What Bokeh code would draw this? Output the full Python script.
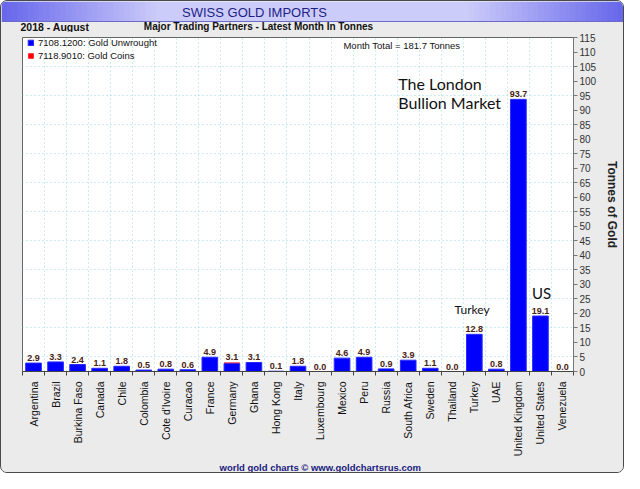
import math
from bokeh.plotting import figure
from bokeh.layouts import column
from bokeh.models import (Range1d, FixedTicker, Label, ColumnDataSource, Legend,
                          LegendItem, Title)
from bokeh.core.properties import value
from bokeh.embed import file_html
from bokeh.resources import INLINE

# ---------------- data ----------------
countries = ["Argentina", "Brazil", "Burkina Faso", "Canada", "Chile", "Colombia",
             "Cote d'Ivoire", "Curacao", "France", "Germany", "Ghana", "Hong Kong",
             "Italy", "Luxembourg", "Mexico", "Peru", "Russia", "South Africa",
             "Sweden", "Thailand", "Turkey", "UAE", "United Kingdom",
             "United States", "Venezuela"]
totals = [2.9, 3.3, 2.4, 1.1, 1.8, 0.5, 0.8, 0.6, 4.9, 3.1, 3.1, 0.1, 1.8, 0.0,
          4.6, 4.9, 0.9, 3.9, 1.1, 0.0, 12.8, 0.8, 93.7, 19.1, 0.0]
coins = [0.0, 0.0, 0.0, 0.0, 0.0, 0.0, 0.0, 0.0, 0.0, 0.3, 0.0, 0.0, 0.0, 0.0,
         0.0, 0.0, 0.0, 0.0, 0.0, 0.0, 0.0, 0.0, 0.0, 0.0, 0.0]
y_ticks = list(range(0, 116, 5))
grid_y = list(range(5, 115, 10))
series_names = ["7108.1200: Gold Unwrought", "7118.9010: Gold Coins"]
title_text = "SWISS GOLD IMPORTS"
period_text = "2018 - August"
subtitle_text = "Major Trading Partners - Latest Month In Tonnes"
total_text = "Month Total = 181.7 Tonnes"
footer_text = "world gold charts \u00a9 www.goldchartsrus.com"

W = 622
HDR_H = 31
MAIN_H = 440
BG = "#ebebeb"

# ---------------- header ----------------
hdr = figure(width=W, height=HDR_H, x_range=Range1d(0, W), y_range=Range1d(HDR_H, 0),
             x_axis_type=None, y_axis_type=None, output_backend="svg",
             toolbar_location=None, min_border=0)
hdr.frame_align = False
hdr.background_fill_color = BG
hdr.border_fill_color = BG
hdr.outline_line_color = None
hdr.grid.visible = False

# title bar with a horizontal gradient (light centre, blue ends)
edge = (104, 104, 236)
mid = (204, 204, 250)
steps = 30
ramp = 160
lefts, rights, cols = [], [], []
w = ramp / steps
for k in range(steps):
    f = k / (steps - 1)
    c = tuple(int(edge[j] + (mid[j] - edge[j]) * f) for j in range(3))
    hexc = "#%02x%02x%02x" % c
    lefts += [k * w, W - (k + 1) * w - 0.7]
    rights += [(k + 1) * w + 0.7, W - k * w]
    cols += [hexc, hexc]
lefts.append(ramp)
rights.append(W - ramp)
cols.append("#%02x%02x%02x" % mid)
hdr.quad(left=lefts, right=rights, top=0, bottom=19.5, fill_color=cols, line_color=None)
hdr.segment(x0=[0], y0=[20], x1=[W], y1=[20], line_color="#6c6cc8", line_width=1)
hdr.text(x=[253], y=[10.5], text=[title_text], text_align="center",
         text_baseline="middle", text_font=value("Liberation Sans"),
         text_font_size="13px", text_color="#1e1e86")
hdr.text(x=[19], y=[25], text=[period_text], text_align="left",
         text_baseline="middle", text_font=value("Liberation Sans"),
         text_font_size="10.5px", text_font_style="bold", text_color="#111111")
hdr.text(x=[257], y=[25], text=[subtitle_text], text_align="center",
         text_baseline="middle", text_font=value("Liberation Sans"),
         text_font_size="10px", text_font_style="bold", text_color="#111111")

# ---------------- main chart ----------------
xs = list(range(len(countries)))
unwrought = [round(t - c, 2) for t, c in zip(totals, coins)]
src = ColumnDataSource(dict(x=xs, unw=unwrought, tot=totals,
                            lab=["%.1f" % t for t in totals]))

p = figure(width=W, height=MAIN_H, x_range=Range1d(-0.5, len(countries) - 0.5),
           y_range=Range1d(0, 115), output_backend="svg", toolbar_location=None,
           y_axis_location="right", min_border_left=21, min_border_right=50,
           min_border_top=5, min_border_bottom=0)
p.frame_align = False
p.background_fill_color = "white"
p.border_fill_color = BG
p.outline_line_color = "#666666"

p.xgrid.ticker = FixedTicker(ticks=[i + 0.5 for i in range(len(countries) - 1)])
p.ygrid.ticker = FixedTicker(ticks=grid_y)
for g in (p.xgrid, p.ygrid):
    g.grid_line_color = "#9ad8ea"
    g.grid_line_dash = "1 3"
    g.grid_line_width = 1

xa = p.xaxis[0]
xa.ticker = FixedTicker(ticks=xs, minor_ticks=[i + 0.5 for i in range(-1, len(countries))])
xa.major_label_overrides = {i: c for i, c in enumerate(countries)}
xa.major_label_orientation = math.pi / 2
xa.major_tick_line_color = None
xa.minor_tick_line_color = "#444444"
xa.minor_tick_out = 4
xa.minor_tick_in = 0
xa.major_label_standoff = 4
xa.axis_line_color = "#444444"
xa.major_label_text_font = "Liberation Sans"
xa.major_label_text_font_size = "10.5px"
xa.major_label_text_color = "#111111"

ya = p.yaxis[0]
ya.ticker = FixedTicker(ticks=y_ticks)
ya.minor_tick_line_color = None
ya.major_tick_out = 4
ya.major_tick_in = 0
ya.major_tick_line_color = "#777777"
ya.axis_line_color = "#777777"
ya.major_label_standoff = 2
ya.major_label_text_font = "Liberation Sans"
ya.major_label_text_font_size = "10px"
ya.major_label_text_color = "#333333"
ya.axis_label = "Tonnes of Gold"
ya.axis_label_text_font = "Liberation Sans"
ya.axis_label_text_font_style = "bold"
ya.axis_label_text_font_size = "12px"
ya.axis_label_text_color = "#222222"
ya.axis_label_standoff = 6

r1 = p.vbar(x="x", bottom=0, top="unw", width=0.71, source=src,
            fill_color="#0000ff", line_color="#2a2aff")
r2 = p.vbar(x="x", bottom="unw", top="tot", width=0.71, source=src,
            fill_color="#ff0000", line_color=None)
p.text(x="x", y="tot", text="lab", source=src, text_align="center",
       text_baseline="bottom", y_offset=-2, text_font=value("Liberation Sans"),
       text_font_size="9px", text_font_style="bold", text_color="#4a2210")

legend = Legend(items=[LegendItem(label=series_names[0], renderers=[r1]),
                       LegendItem(label=series_names[1], renderers=[r2])],
                location=(5, 309), margin=0, padding=3, spacing=0,
                label_height=13, glyph_height=7, glyph_width=7, label_standoff=4,
                label_text_font="Liberation Sans", label_text_font_size="9.5px",
                label_text_color="#111111", background_fill_alpha=0,
                border_line_color=None)
p.add_layout(legend)

def dlabel(x, y, text, size, align="left", font="Lato"):
    p.add_layout(Label(x=x, y=y, text=text, text_font=font, text_font_size=size,
                       text_color="#111111", text_align=align, text_baseline="middle"))

dlabel(19.37, 112.1, total_text, "9.5px", align="right", font="Liberation Sans")
dlabel(16.55, 99.0, "The London", "16px")
dlabel(16.55, 92.5, "Bullion Market", "16px")
dlabel(19.9, 21.5, "Turkey", "12px", align="center")
dlabel(23.05, 27.0, "US", "15px", align="center")

p.add_layout(Title(text=footer_text, align="left", offset=197, standoff=0,
                   text_font="Liberation Sans", text_font_size="9.5px",
                   text_font_style="bold", text_color="#1a1a80"), "below")

layout = column(hdr, p, styles={"border": "1px solid #4a4a4a",
                                "border-radius": "7px",
                                "background-color": BG,
                                "overflow": "hidden"})

open("out.html", "w").write(file_html(layout, INLINE))
